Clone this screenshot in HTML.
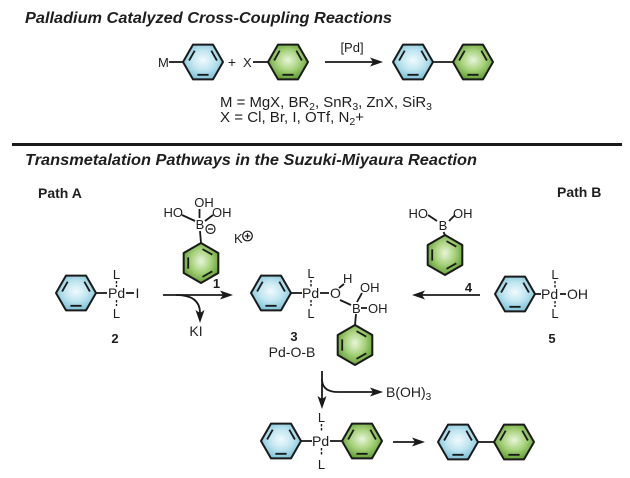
<!DOCTYPE html>
<html><head><meta charset="utf-8">
<style>
html,body{margin:0;padding:0;background:#fff;}
svg{display:block;}
text{font-family:"Liberation Sans",Arial,sans-serif;fill:#1e1e1e;}
.t{font-weight:bold;font-style:italic;font-size:16px;}
.b{font-weight:bold;}
</style></head><body>
<svg width="630" height="478" viewBox="0 0 630 478" xmlns="http://www.w3.org/2000/svg">
<defs>
<radialGradient id="gb" cx="50%" cy="45%" r="58%">
<stop offset="0" stop-color="#f1fafd"/><stop offset="0.5" stop-color="#bfe5f0"/><stop offset="1" stop-color="#78c0d6"/></radialGradient>
<radialGradient id="gg" cx="50%" cy="45%" r="58%">
<stop offset="0" stop-color="#e9f5da"/><stop offset="0.5" stop-color="#a7d27c"/><stop offset="1" stop-color="#5c9c2c"/></radialGradient>
<g id="hfB">
<polygon points="20,0 10,-17.32 -10,-17.32 -20,0 -10,17.32 10,17.32" fill="url(#gb)" stroke="#1a1a1a" stroke-width="2" stroke-linejoin="round"/>
<path d="M13.9,-1.5 L8.3,-11.3 M-8.3,-11.3 L-13.9,-1.5 M-5.6,12.8 L5.6,12.8" stroke="#1a1a1a" stroke-width="1.8" fill="none"/>
</g>
<g id="hfG">
<polygon points="20,0 10,-17.32 -10,-17.32 -20,0 -10,17.32 10,17.32" fill="url(#gg)" stroke="#1a1a1a" stroke-width="2" stroke-linejoin="round"/>
<path d="M13.9,-1.5 L8.3,-11.3 M-8.3,-11.3 L-13.9,-1.5 M-5.6,12.8 L5.6,12.8" stroke="#1a1a1a" stroke-width="1.8" fill="none"/>
</g>
<g id="hpG">
<polygon points="0,-20 17.32,-10 17.32,10 0,20 -17.32,10 -17.32,-10" fill="url(#gg)" stroke="#1a1a1a" stroke-width="2" stroke-linejoin="round"/>
<path d="M1.5,-13.9 L11.3,-8.3 M11.3,8.3 L1.5,13.9 M-12.8,5.6 L-12.8,-5.6" stroke="#1a1a1a" stroke-width="1.8" fill="none"/>
</g>
</defs>

<!-- Titles -->
<text class="t" x="25" y="23" textLength="367" lengthAdjust="spacingAndGlyphs">Palladium Catalyzed Cross-Coupling Reactions</text>
<rect x="12" y="143" width="610" height="3" fill="#1a1a1a"/>
<text class="t" x="25" y="165" textLength="452" lengthAdjust="spacingAndGlyphs">Transmetalation Pathways in the Suzuki-Miyaura Reaction</text>

<g stroke="#1a1a1a" stroke-width="1.8" fill="none">
<!-- top reaction bonds -->
<line x1="169" y1="62" x2="183" y2="62"/>
<line x1="253" y1="62" x2="268" y2="62"/>
<line x1="325" y1="62" x2="373" y2="62"/>
<line x1="433" y1="62" x2="453" y2="62"/>
<!-- compound 2 -->
<line x1="96" y1="293" x2="107" y2="293"/>
<line x1="126" y1="293" x2="134" y2="293"/>
<!-- path A arrow -->
<line x1="163" y1="295" x2="223" y2="295"/>
<path d="M176,295 Q200,295 200,313"/>
<!-- compound 1 bonds -->
<line x1="182" y1="215" x2="195" y2="221"/>
<line x1="213" y1="215" x2="205" y2="221"/>
<line x1="199.5" y1="209" x2="199.5" y2="218"/>
<line x1="200" y1="231" x2="201" y2="243"/>
<!-- compound 3 -->
<line x1="291" y1="293" x2="302" y2="293"/>
<line x1="320" y1="293" x2="329" y2="293"/>
<line x1="339" y1="288" x2="344" y2="284"/>
<line x1="340" y1="300" x2="351" y2="305"/>
<line x1="357" y1="302" x2="362" y2="293"/>
<line x1="361" y1="308" x2="367" y2="308"/>
<line x1="356" y1="314" x2="355" y2="325"/>
<!-- compound 4 -->
<line x1="428" y1="215" x2="437" y2="221"/>
<line x1="449" y1="221" x2="455" y2="215"/>
<line x1="443.5" y1="232" x2="445" y2="235"/>
<line x1="480" y1="295" x2="422" y2="295"/>
<!-- compound 5 -->
<line x1="535" y1="294" x2="541" y2="294"/>
<line x1="560" y1="294" x2="566" y2="294"/>
<!-- bottom -->
<line x1="322" y1="371" x2="322" y2="399"/>
<path d="M322,379 Q322,392 338,392 L373,392"/>
<line x1="301" y1="441" x2="312" y2="441"/>
<line x1="330" y1="441" x2="342" y2="441"/>
<line x1="393" y1="442" x2="415" y2="442"/>
<line x1="478" y1="442" x2="494" y2="442"/>
</g>

<!-- L dashes -->
<g stroke="#1a1a1a" stroke-width="1.4" stroke-dasharray="2.5 1.5">
<line x1="116.5" y1="281" x2="116.5" y2="287"/>
<line x1="116.5" y1="300" x2="116.5" y2="306"/>
<line x1="311" y1="280" x2="311" y2="287"/>
<line x1="311" y1="300" x2="311" y2="306"/>
<line x1="555" y1="281" x2="555" y2="288"/>
<line x1="555" y1="301" x2="555" y2="307"/>
<line x1="321.5" y1="424" x2="321.5" y2="431"/>
<line x1="321.5" y1="448" x2="321.5" y2="456"/>
</g>

<!-- arrowheads -->
<g fill="#1a1a1a">
<polygon points="383,62 370,57.5 373,62 370,66.5"/>
<polygon points="233,295 220,290.5 223,295 220,299.5"/>
<polygon points="200,323 195.5,310 200,313 204.5,310"/>
<polygon points="412,295 425,290.5 422,295 425,299.5"/>
<polygon points="322,409 317.5,396 322,399 326.5,396"/>
<polygon points="383,392 370,387.5 373,392 370,396.5"/>
<polygon points="425,442 412,437.5 415,442 412,446.5"/>
</g>

<!-- rings -->
<use href="#hfB" x="203" y="62"/>
<use href="#hfG" x="288" y="62"/>
<use href="#hfB" x="413" y="62"/>
<use href="#hfG" x="473" y="62"/>
<use href="#hfB" x="76" y="293"/>
<use href="#hpG" x="201" y="263"/>
<use href="#hfB" x="271" y="293"/>
<use href="#hpG" x="355" y="345"/>
<use href="#hpG" x="445" y="255"/>
<use href="#hfB" x="515" y="294"/>
<use href="#hfB" x="281" y="441"/>
<use href="#hfG" x="362" y="441"/>
<use href="#hfB" x="458" y="442"/>
<use href="#hfG" x="514" y="442"/>

<!-- top labels -->
<text x="158" y="67" font-size="13">M</text>
<text x="232" y="67" font-size="14" text-anchor="middle">+</text>
<text x="243" y="67" font-size="13">X</text>
<text x="352" y="52" font-size="13" text-anchor="middle">[Pd]</text>
<text x="220" y="107" font-size="15" textLength="212" lengthAdjust="spacingAndGlyphs">M = MgX, BR<tspan font-size="10.5" dy="3">2</tspan><tspan dy="-3">, SnR</tspan><tspan font-size="10.5" dy="3">3</tspan><tspan dy="-3">, ZnX, SiR</tspan><tspan font-size="10.5" dy="3">3</tspan></text>
<text x="220" y="122" font-size="15" textLength="144" lengthAdjust="spacingAndGlyphs">X = Cl, Br, I, OTf, N<tspan font-size="10.5" dy="3">2</tspan><tspan dy="-3">+</tspan></text>

<!-- path labels -->
<text class="b" x="38" y="198" font-size="14">Path A</text>
<text class="b" x="557" y="197" font-size="14">Path B</text>

<!-- compound 2 -->
<text x="108" y="298" font-size="14">Pd</text>
<text x="135.5" y="298" font-size="14">I</text>
<text x="116.5" y="279" font-size="13" text-anchor="middle">L</text>
<text x="116.5" y="318" font-size="13" text-anchor="middle">L</text>
<text class="b" x="115" y="343" font-size="13" text-anchor="middle">2</text>
<text class="b" x="216.5" y="288" font-size="13" text-anchor="middle">1</text>
<text x="196" y="336" font-size="14" text-anchor="middle">KI</text>

<!-- compound 1 -->
<text x="183" y="217" font-size="13" text-anchor="end">HO</text>
<text x="204" y="207" font-size="13" text-anchor="middle">OH</text>
<text x="212" y="217" font-size="13">OH</text>
<text x="200" y="229" font-size="13" text-anchor="middle">B</text>
<circle cx="210.5" cy="229" r="4.5" fill="none" stroke="#1a1a1a" stroke-width="1.2"/>
<line x1="208" y1="229" x2="213" y2="229" stroke="#1a1a1a" stroke-width="1.3"/>
<text x="234" y="243" font-size="13">K</text>
<circle cx="247.5" cy="236" r="4.8" fill="none" stroke="#1a1a1a" stroke-width="1.2"/>
<path d="M244.8,236 H250.2 M247.5,233.3 V238.7" stroke="#1a1a1a" stroke-width="1.3"/>

<!-- compound 3 -->
<text x="302" y="298" font-size="14">Pd</text>
<text x="311" y="278" font-size="13" text-anchor="middle">L</text>
<text x="311" y="318" font-size="13" text-anchor="middle">L</text>
<text x="330" y="298" font-size="14">O</text>
<text x="343" y="283" font-size="13">H</text>
<text x="352" y="313" font-size="13">B</text>
<text x="360" y="292" font-size="13">OH</text>
<text x="368" y="313" font-size="13">OH</text>
<text class="b" x="294" y="341" font-size="13" text-anchor="middle">3</text>
<text x="292" y="357" font-size="14" text-anchor="middle">Pd-O-B</text>

<!-- compound 4 -->
<text x="428" y="218" font-size="13" text-anchor="end">HO</text>
<text x="443" y="230" font-size="13" text-anchor="middle">B</text>
<text x="453" y="218" font-size="13">OH</text>
<text class="b" x="468.5" y="292" font-size="13" text-anchor="middle">4</text>

<!-- compound 5 -->
<text x="541" y="299" font-size="14">Pd</text>
<text x="567" y="299" font-size="14">OH</text>
<text x="555" y="279" font-size="13" text-anchor="middle">L</text>
<text x="555" y="318" font-size="13" text-anchor="middle">L</text>
<text class="b" x="552" y="343" font-size="13" text-anchor="middle">5</text>

<!-- bottom -->
<text x="386" y="397" font-size="14">B(OH)<tspan font-size="10" dy="3">3</tspan></text>
<text x="321.5" y="422" font-size="13" text-anchor="middle">L</text>
<text x="312" y="446" font-size="14">Pd</text>
<text x="321.5" y="469" font-size="13" text-anchor="middle">L</text>
</svg>
</body></html>
